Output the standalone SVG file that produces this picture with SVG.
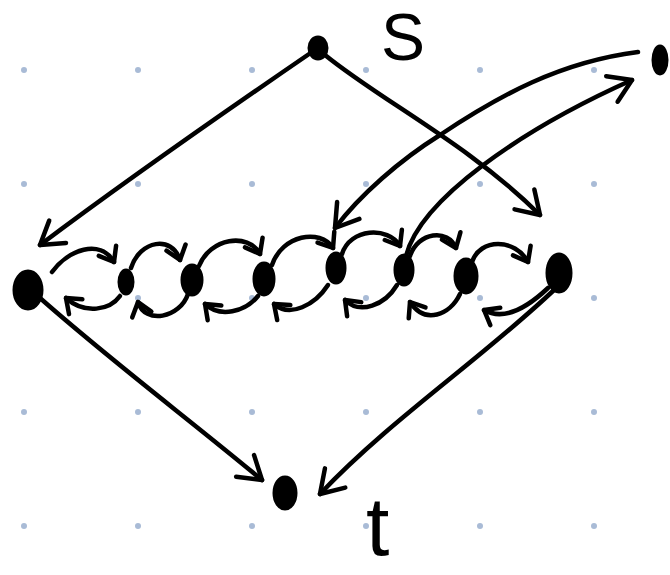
<svg xmlns="http://www.w3.org/2000/svg" width="670" height="575" viewBox="0 0 670 575">
<style>
.dot{fill:#a9bbd6}
.node{fill:#000;stroke:#000;stroke-width:3}
.e{fill:none;stroke:#000;stroke-width:4.5;stroke-linecap:round;stroke-linejoin:round}
.lbl{font-family:"Liberation Sans",Arial,sans-serif;fill:#000}
</style>
<defs>
<marker id="big" markerUnits="userSpaceOnUse" markerWidth="40" markerHeight="40" refX="0" refY="0" viewBox="-30 -20 40 40" orient="auto">
<path d="M -22 -14 L 0 0 L -22 14" fill="none" stroke="#000" stroke-width="4.5" stroke-linecap="round" stroke-linejoin="round"/>
</marker>
<marker id="sm" markerUnits="userSpaceOnUse" markerWidth="30" markerHeight="30" refX="0" refY="0" viewBox="-20 -15 30 30" orient="auto">
<path d="M -13 -10 L 0 0 L -13 10" fill="none" stroke="#000" stroke-width="4.5" stroke-linecap="round" stroke-linejoin="round"/>
</marker>
</defs>
<rect width="670" height="575" fill="#fff"/>
<g id="grid">
<circle class="dot" cx="24" cy="70" r="3"/><circle class="dot" cx="138" cy="70" r="3"/><circle class="dot" cx="252" cy="70" r="3"/><circle class="dot" cx="366" cy="70" r="3"/><circle class="dot" cx="480" cy="70" r="3"/><circle class="dot" cx="594" cy="70" r="3"/>
<circle class="dot" cx="24" cy="184" r="3"/><circle class="dot" cx="138" cy="184" r="3"/><circle class="dot" cx="252" cy="184" r="3"/><circle class="dot" cx="366" cy="184" r="3"/><circle class="dot" cx="480" cy="184" r="3"/><circle class="dot" cx="594" cy="184" r="3"/>
<circle class="dot" cx="24" cy="298" r="3"/><circle class="dot" cx="138" cy="298" r="3"/><circle class="dot" cx="252" cy="298" r="3"/><circle class="dot" cx="366" cy="298" r="3"/><circle class="dot" cx="480" cy="298" r="3"/><circle class="dot" cx="594" cy="298" r="3"/>
<circle class="dot" cx="24" cy="412" r="3"/><circle class="dot" cx="138" cy="412" r="3"/><circle class="dot" cx="252" cy="412" r="3"/><circle class="dot" cx="366" cy="412" r="3"/><circle class="dot" cx="480" cy="412" r="3"/><circle class="dot" cx="594" cy="412" r="3"/>
<circle class="dot" cx="24" cy="526" r="3"/><circle class="dot" cx="138" cy="526" r="3"/><circle class="dot" cx="252" cy="526" r="3"/><circle class="dot" cx="366" cy="526" r="3"/><circle class="dot" cx="480" cy="526" r="3"/><circle class="dot" cx="594" cy="526" r="3"/>
</g>
<g id="connectors">
<path class="e" marker-end="url(#big)" d="M 312 52 C 220 115 120 185 40 245"/>
<path class="e" marker-end="url(#big)" d="M 325 55 C 380 100 470 145 540 215"/>
<path class="e" marker-end="url(#big)" d="M 638 52 C 560 62 500 95 440 135 C 400 160 360 195 335 228"/>
<path class="e" marker-end="url(#big)" d="M 406 256 C 420 200 520 130 632 80"/>
<path class="e" marker-end="url(#big)" d="M 40 298 C 110 360 190 420 262 480"/>
<path class="e" marker-end="url(#big)" d="M 554 290 C 480 360 390 420 320 494"/>
<path class="e" marker-end="url(#sm)" d="M 52 272 C 68 250 100 238 114 262"/>
<path class="e" marker-end="url(#sm)" d="M 131 268 C 140 240 172 235 180 260"/>
<path class="e" marker-end="url(#sm)" d="M 199 266 C 210 238 248 232 260 254"/>
<path class="e" marker-end="url(#sm)" d="M 272 265 C 282 235 320 228 333 248"/>
<path class="e" marker-end="url(#sm)" d="M 342 254 C 350 228 388 226 400 246"/>
<path class="e" marker-end="url(#sm)" d="M 410 256 C 418 232 448 228 456 248"/>
<path class="e" marker-end="url(#sm)" d="M 472 262 C 480 238 515 238 528 262"/>
<path class="e" marker-end="url(#sm)" d="M 120 296 C 110 310 85 315 66 298"/>
<path class="e" marker-end="url(#sm)" d="M 188 294 C 180 318 145 325 138 302"/>
<path class="e" marker-end="url(#sm)" d="M 258 296 C 245 312 220 318 205 304"/>
<path class="e" marker-end="url(#sm)" d="M 328 285 C 315 305 290 318 274 304"/>
<path class="e" marker-end="url(#sm)" d="M 397 285 C 385 305 360 315 345 300"/>
<path class="e" marker-end="url(#sm)" d="M 460 294 C 450 315 425 325 410 302"/>
<path class="e" marker-end="url(#sm)" d="M 548 288 C 530 305 505 322 484 310"/>
</g>
<g id="s"><ellipse class="node" cx="318" cy="48" rx="9" ry="11"/></g>
<g id="v_top"><ellipse class="node" cx="660" cy="60" rx="7" ry="14"/></g>
<g id="v0"><ellipse class="node" cx="28" cy="290" rx="14" ry="19"/></g>
<g id="v1"><ellipse class="node" cx="126" cy="282" rx="7" ry="12"/></g>
<g id="v2"><ellipse class="node" cx="192" cy="280" rx="10" ry="15"/></g>
<g id="v3"><ellipse class="node" cx="264" cy="279" rx="10" ry="16"/></g>
<g id="v4"><ellipse class="node" cx="336" cy="268" rx="9" ry="15"/></g>
<g id="v5"><ellipse class="node" cx="404" cy="270" rx="9" ry="15"/></g>
<g id="v6"><ellipse class="node" cx="466" cy="276" rx="11" ry="17"/></g>
<g id="v7"><ellipse class="node" cx="559" cy="273" rx="12" ry="19"/></g>
<g id="t"><ellipse class="node" cx="285" cy="493" rx="11" ry="16"/></g>
<g id="labels">
<text class="lbl" x="381" y="60" font-size="66">S</text>
<text class="lbl" x="366" y="555" font-size="84">t</text>
</g>
</svg>
